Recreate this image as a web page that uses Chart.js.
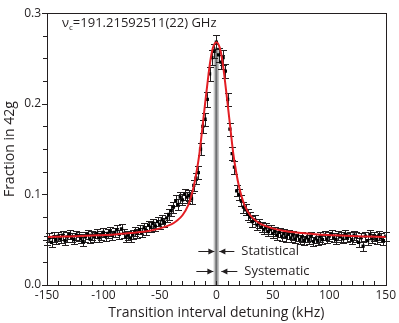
<!DOCTYPE html>
<html>
<head>
<meta charset="utf-8">
<script src="https://cdn.jsdelivr.net/npm/chart.js@4/dist/chart.umd.min.js"></script>
<style>
  html, body { margin: 0; padding: 0; background: #fff; }
  #wrap { width: 399px; height: 323px; }
</style>
</head>
<body>
<div id="wrap"><canvas id="resonanceChart" width="399" height="323"></canvas></div>
<script>
// measured points (kHz, fraction in 42g, 1-sigma)
const detuning = [
  -150, -148, -146, -144, -142, -140, -138, -136, -134, -132, -130, -128, -126, -124, -122, -120,
  -118, -116, -114, -112, -110, -108, -106, -104, -102, -100, -98, -96, -94, -92, -90, -88,
  -86, -84, -82, -80, -78, -76, -74, -72, -70, -68, -66, -64, -62, -60, -58, -56,
  -54, -52, -50, -48, -46, -44, -42, -40, -38, -36, -34, -32, -30, -28, -26, -24,
  -22, -20, -18, -16, -14, -12, -10, -8, -6, -4, -2, 0, 2, 4, 6, 8,
  10, 12, 14, 16, 18, 20, 22, 24, 26, 28, 30, 32, 34, 36, 38, 40,
  42, 44, 46, 48, 50, 52, 54, 56, 58, 60, 62, 64, 66, 68, 70, 72,
  74, 76, 78, 80, 82, 84, 86, 88, 90, 92, 94, 96, 98, 100, 102, 104,
  106, 108, 110, 112, 114, 116, 118, 120, 122, 124, 126, 128, 130, 132, 134, 136,
  138, 140, 142, 144, 146, 148, 150
];
const fraction = [
  0.049, 0.052, 0.047, 0.053, 0.050, 0.054, 0.051, 0.055, 0.049, 0.053, 0.056, 0.052, 0.050, 0.055, 0.054, 0.051,
  0.048, 0.053, 0.056, 0.051, 0.055, 0.053, 0.057, 0.052, 0.055, 0.058, 0.054, 0.057, 0.059, 0.055, 0.058, 0.061,
  0.056, 0.062, 0.057, 0.053, 0.055, 0.052, 0.056, 0.059, 0.057, 0.061, 0.058, 0.063, 0.060, 0.066, 0.064, 0.068,
  0.065, 0.070, 0.067, 0.072, 0.069, 0.074, 0.078, 0.082, 0.086, 0.093, 0.089, 0.097, 0.094, 0.100, 0.097, 0.099,
  0.095, 0.110, 0.118, 0.124, 0.150, 0.175, 0.183, 0.205, 0.233, 0.251, 0.258, 0.268, 0.254, 0.246, 0.251, 0.236,
  0.205, 0.172, 0.145, 0.130, 0.104, 0.100, 0.093, 0.086, 0.083, 0.078, 0.075, 0.070, 0.072, 0.066, 0.068, 0.064,
  0.061, 0.063, 0.059, 0.061, 0.057, 0.059, 0.055, 0.058, 0.054, 0.057, 0.053, 0.056, 0.052, 0.055, 0.051, 0.054,
  0.050, 0.053, 0.049, 0.052, 0.050, 0.054, 0.048, 0.051, 0.049, 0.053, 0.050, 0.055, 0.051, 0.054, 0.056, 0.052,
  0.050, 0.055, 0.053, 0.051, 0.056, 0.052, 0.054, 0.050, 0.055, 0.053, 0.047, 0.052, 0.043, 0.054, 0.049, 0.056,
  0.051, 0.054, 0.050, 0.055, 0.052, 0.049, 0.054
];
const fractionErr = [
  0.005, 0.005, 0.005, 0.005, 0.005, 0.005, 0.005, 0.005, 0.005, 0.005, 0.005, 0.005, 0.005, 0.005, 0.005, 0.005,
  0.005, 0.005, 0.005, 0.005, 0.005, 0.005, 0.005, 0.005, 0.005, 0.005, 0.005, 0.005, 0.005, 0.005, 0.005, 0.005,
  0.005, 0.005, 0.005, 0.005, 0.005, 0.005, 0.005, 0.005, 0.005, 0.005, 0.005, 0.005, 0.005, 0.005, 0.005, 0.005,
  0.005, 0.005, 0.005, 0.005, 0.005, 0.005, 0.006, 0.006, 0.006, 0.006, 0.006, 0.006, 0.006, 0.006, 0.006, 0.006,
  0.006, 0.006, 0.006, 0.007, 0.007, 0.007, 0.007, 0.008, 0.008, 0.008, 0.008, 0.008, 0.008, 0.008, 0.008, 0.008,
  0.007, 0.007, 0.007, 0.007, 0.006, 0.006, 0.006, 0.006, 0.006, 0.006, 0.006, 0.006, 0.005, 0.005, 0.005, 0.005,
  0.005, 0.005, 0.005, 0.005, 0.005, 0.005, 0.005, 0.005, 0.005, 0.005, 0.005, 0.005, 0.005, 0.005, 0.005, 0.005,
  0.005, 0.005, 0.005, 0.005, 0.005, 0.005, 0.005, 0.005, 0.005, 0.005, 0.005, 0.005, 0.005, 0.005, 0.005, 0.005,
  0.005, 0.005, 0.005, 0.005, 0.005, 0.005, 0.005, 0.005, 0.005, 0.005, 0.005, 0.005, 0.005, 0.005, 0.005, 0.005,
  0.005, 0.005, 0.005, 0.005, 0.005, 0.005, 0.005
];

// fitted line shape
const fitDetuning = [
  -150, -135, -120, -105, -90, -75, -60, -50, -40, -35, -30, -25, -22.5, -20, -17.5, -15, -12.5, -10, -7, -5, -3,
  0, 3, 5, 7, 10, 12.5, 15, 17.5, 20, 22.5, 25, 30, 35, 40, 50, 60, 75, 90, 105, 120, 135, 150
];
const fitFraction = [
  0.053, 0.0535, 0.054, 0.0548, 0.0558, 0.0575, 0.0595, 0.0625, 0.067, 0.071, 0.077, 0.088, 0.097, 0.109, 0.125, 0.145, 0.172, 0.200, 0.232, 0.250, 0.262,
  0.268, 0.262, 0.250, 0.232, 0.200, 0.172, 0.145, 0.125, 0.109, 0.097, 0.088, 0.077, 0.071, 0.067, 0.0625, 0.0595, 0.0575, 0.0558, 0.0548, 0.054, 0.0535, 0.053
];

const centerLabel = '=191.21592511(22) GHz';
const statHalfWidth = 0.9;   // kHz
const sysHalfWidth = 2.4;    // kHz
const bandTop = 0.262;
const statRowY = 0.037;
const sysRowY = 0.016;

const ink = '#231f20';
const fontFamily = "'Open Sans', sans-serif";

const errorBars = {
    id: 'errorBars',
    beforeDatasetsDraw(chart) {
        const ctx = chart.ctx;
        const xs = chart.scales.x;
        const ys = chart.scales.y;
        const area = chart.chartArea;

        // uncertainty band at line centre
        const yTop = ys.getPixelForValue(bandTop);
        const yBot = area.bottom;
        ctx.save();
        ctx.fillStyle = '#c4c4c4';
        const sl = xs.getPixelForValue(-sysHalfWidth), sr = xs.getPixelForValue(sysHalfWidth);
        ctx.fillRect(sl, yTop, sr - sl, yBot - yTop);
        ctx.fillStyle = '#6d6e70';
        const tl = xs.getPixelForValue(-statHalfWidth), tr = xs.getPixelForValue(statHalfWidth);
        ctx.fillRect(tl, yTop, tr - tl, yBot - yTop);

        // error bars
        ctx.strokeStyle = ink;
        ctx.lineWidth = 1;
        ctx.beginPath();
        for (let i = 0; i < detuning.length; i++) {
            const px = Math.round(xs.getPixelForValue(detuning[i])) + 0.5;
            const hi = Math.round(ys.getPixelForValue(fraction[i] + fractionErr[i])) + 0.5;
            const lo = Math.round(ys.getPixelForValue(fraction[i] - fractionErr[i])) + 0.5;
            ctx.moveTo(px, hi); ctx.lineTo(px, lo);
            ctx.moveTo(px - 3.5, hi); ctx.lineTo(px + 3.5, hi);
            ctx.moveTo(px - 3.5, lo); ctx.lineTo(px + 3.5, lo);
        }
        ctx.stroke();
        ctx.restore();
    },
    afterDraw(chart) {
        const ctx = chart.ctx;
        const xs = chart.scales.x;
        const ys = chart.scales.y;
        const a = chart.chartArea;
        ctx.save();
        ctx.strokeStyle = ink;
        ctx.fillStyle = ink;
        ctx.lineWidth = 1;

        // frame
        ctx.strokeRect(Math.round(a.left) + 0.5, Math.round(a.top) + 0.5,
            Math.round(a.right - a.left), Math.round(a.bottom - a.top));

        // ticks: x inward every 10 kHz, y outward every 0.025
        ctx.beginPath();
        for (let v = xs.min; v <= xs.max; v += 10) {
            const px = Math.round(xs.getPixelForValue(v)) + 0.5;
            ctx.moveTo(px, a.bottom);
            ctx.lineTo(px, a.bottom - 4);
        }
        for (let k = 0; k <= 12; k++) {
            const py = Math.round(ys.getPixelForValue(k * 0.025)) + 0.5;
            const len = (k % 4 === 0) ? 5 : 4;
            ctx.moveTo(a.left, py);
            ctx.lineTo(a.left - len, py);
        }
        ctx.stroke();

        // centre frequency
        ctx.textBaseline = 'middle';
        ctx.textAlign = 'left';
        const lx = a.left + 15, ly = a.top + 10;
        ctx.font = '13px ' + fontFamily;
        ctx.fillText('\u03bd', lx, ly);
        const nw = ctx.measureText('\u03bd').width;
        ctx.font = '8px ' + fontFamily;
        ctx.fillText('c', lx + nw, ly + 5);
        const cw = ctx.measureText('c').width;
        ctx.font = '13px ' + fontFamily;
        ctx.fillText(centerLabel, lx + nw + cw, ly);

        // arrows for the two uncertainties
        const x0 = xs.getPixelForValue(0);
        function arrow(fromX, toX, y) {
            ctx.beginPath();
            ctx.moveTo(fromX, y);
            ctx.lineTo(toX, y);
            ctx.stroke();
            const d = toX > fromX ? 1 : -1;
            ctx.beginPath();
            ctx.moveTo(toX, y);
            ctx.lineTo(toX - d * 6, y - 3);
            ctx.lineTo(toX - d * 6, y + 3);
            ctx.closePath();
            ctx.fill();
        }
        const yStat = Math.round(ys.getPixelForValue(statRowY)) + 0.5;
        const ySys = Math.round(ys.getPixelForValue(sysRowY)) + 0.5;
        arrow(x0 - 18, x0 - 2, yStat);
        arrow(x0 + 18, x0 + 3, yStat);
        arrow(x0 - 20, x0 - 3, ySys);
        arrow(x0 + 21, x0 + 5, ySys);
        ctx.font = '13px ' + fontFamily;
        ctx.fillText('Statistical', x0 + 25, yStat);
        ctx.fillText('Systematic', x0 + 28, ySys);
        ctx.restore();
    }
};

Chart.defaults.font.family = fontFamily;
Chart.defaults.color = ink;

const fitPoints = fitDetuning.map((x, i) => ({ x: x, y: fitFraction[i] }));
const dataPoints = detuning.map((x, i) => ({ x: x, y: fraction[i] }));

new Chart(document.getElementById('resonanceChart'), {
    type: 'scatter',
    data: {
        datasets: [
            {
                type: 'line',
                label: 'Fit',
                data: fitPoints,
                borderColor: '#e31e24',
                borderWidth: 2,
                pointRadius: 0,
                fill: false,
                cubicInterpolationMode: 'monotone',
                order: 0
            },
            {
                label: 'Data',
                data: dataPoints,
                pointStyle: 'rect',
                pointRadius: 2.3,
                backgroundColor: '#000',
                borderWidth: 0,
                order: 1
            }
        ]
    },
    plugins: [errorBars],
    options: {
        responsive: false,
        animation: false,
        layout: { padding: { top: 8, right: 9, left: 0, bottom: 0 } },
        plugins: {
            legend: { display: false },
            tooltip: { enabled: false }
        },
        scales: {
            x: {
                type: 'linear',
                min: -150,
                max: 150,
                afterFit: function(scale) { scale.height = 38; },
                grid: { display: false, drawTicks: false },
                border: { display: false },
                ticks: {
                    stepSize: 50,
                    padding: 3,
                    maxRotation: 0,
                    font: { size: 12 },
                    color: ink
                },
                title: {
                    display: true,
                    text: 'Transition interval detuning (kHz)',
                    font: { size: 14 },
                    color: ink,
                    padding: { top: 0, bottom: 2 }
                }
            },
            y: {
                type: 'linear',
                min: 0,
                max: 0.3,
                afterFit: function(scale) { scale.width = 47; },
                grid: { display: false, drawTicks: false },
                border: { display: false },
                ticks: {
                    stepSize: 0.1,
                    padding: 6,
                    font: { size: 12 },
                    color: ink,
                    callback: function(value) { return value.toFixed(1); }
                },
                title: {
                    display: true,
                    text: 'Fraction in 42g',
                    font: { size: 14 },
                    color: ink,
                    padding: { top: 2, bottom: 0 }
                }
            }
        }
    }
});
</script>
</body>
</html>
